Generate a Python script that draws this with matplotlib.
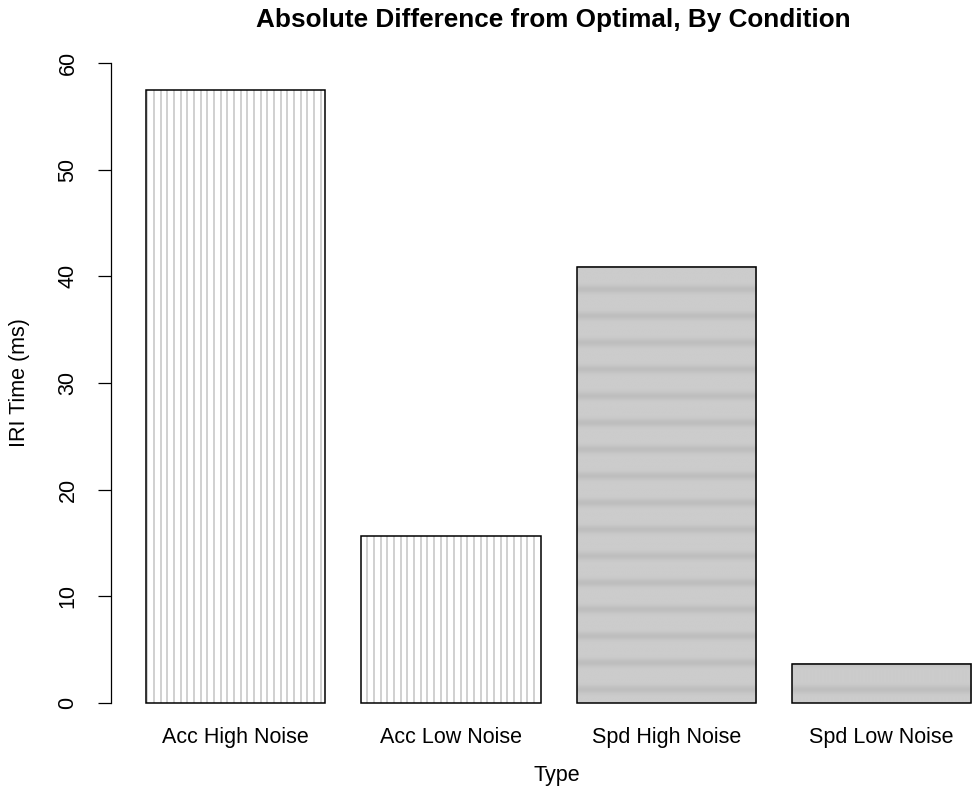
import matplotlib
matplotlib.use("Agg")
import matplotlib.pyplot as plt
import numpy as np

plt.rcParams['font.family'] = ['Liberation Sans', 'DejaVu Sans']

categories = ["Acc High Noise", "Acc Low Noise", "Spd High Noise", "Spd Low Noise"]
values = [57.5, 15.7, 40.9, 3.7]
y_ticks = [0, 10, 20, 30, 40, 50, 60]

W, H, DPI = 974, 792, 100
fig = plt.figure(figsize=(W / DPI, H / DPI), dpi=DPI)

# bar layout in R barplot units: width 1, space 0.2
px_per_unit = 179.4
bar_left_px = 146
x_lo = 0.2 - (bar_left_px - 111) / px_per_unit
x_hi = 0.2 + (W - bar_left_px) / px_per_unit
ylo, yhi = -2.4, 62.4
ax = fig.add_axes([111 / W, (H - 728.6) / H, (W - 111) / W, (728.6 - 37.4) / H])

lefts = [0.2 + 1.2 * i for i in range(len(values))]
centers = [l + 0.5 for l in lefts]

line_step = 6.67 / px_per_unit
line_start = 0.2 + 1.3 / px_per_unit
grid = line_start + line_step * np.arange(200)

# soft horizontal shading bands for the grey bars
band_period = 2.5
band_sigma = 0.38
def band_image(top, rows=800):
    y = np.linspace(top, 0, rows)
    d = (y - band_period / 2) % band_period
    d = np.minimum(d, band_period - d)
    g = 0.80 - 0.055 * np.exp(-(d / band_sigma) ** 2)
    return np.repeat(g[:, None], 2, axis=1)

for i, (l, v) in enumerate(zip(lefts, values)):
    if i < 2:
        ax.bar(l + 0.5, v, width=1, color='white', edgecolor='none', zorder=1)
        xs = grid[(grid > l + 0.002) & (grid < l + 1 - 0.002)]
        ax.vlines(xs, 0, v, colors='#d0d0d0', linewidth=1.4, zorder=2)
    else:
        img = band_image(v)
        ax.imshow(img, cmap='gray', vmin=0, vmax=1, extent=(l, l + 1, 0, v),
                  aspect='auto', interpolation='bilinear', zorder=1)
    ax.bar(l + 0.5, v, width=1, fill=False, edgecolor='black', linewidth=1.1, zorder=3)

ax.set_xlim(x_lo, x_hi)
ax.set_ylim(ylo, yhi)

for s in ['top', 'right', 'bottom']:
    ax.spines[s].set_visible(False)
ax.spines['left'].set_bounds(0, 60)
ax.spines['left'].set_linewidth(0.9)

ax.set_yticks(y_ticks)
ax.set_yticklabels([str(t) for t in y_ticks], rotation=90, va='center')
ax.tick_params(axis='y', length=9.4, width=0.9, pad=14, labelsize=15.5)

ax.set_xticks(centers)
ax.set_xticklabels(categories)
ax.tick_params(axis='x', length=0, pad=-1, labelsize=15.5)

fig.text(553 / W, 1 - 20 / H, "Absolute Difference from Optimal, By Condition",
         ha='center', va='center', fontsize=18.8, fontweight='bold')
fig.text(557 / W, 1 - 775 / H, "Type", ha='center', va='center', fontsize=15.5)
fig.text(20 / W, 1 - 383 / H, "IRI Time (ms)", ha='center', va='center',
         rotation=90, fontsize=15.5)

fig.savefig("out.png", dpi=DPI)
